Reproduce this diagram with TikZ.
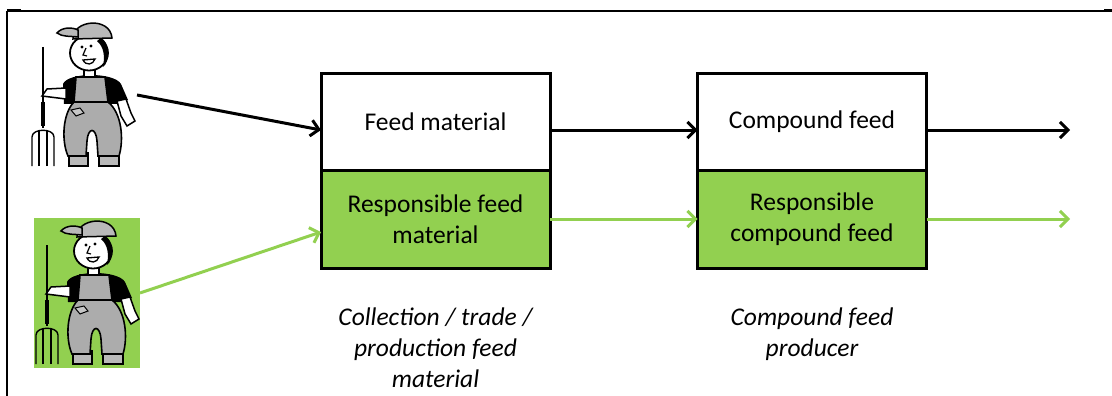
\documentclass[tikz,border=0pt]{standalone}
\usepackage{fontspec}
\setmainfont{Carlito}
\usetikzlibrary{positioning,arrows.meta}

\definecolor{leaf}{HTML}{92D050}

\tikzset{
  feedbox/.style={shape=rectangle, draw, line width=3pt, outer sep=0pt, minimum width=229pt, align=center, font=\fontsize{25.5}{31}\selectfont},
  flow/.style={line width=3pt, -{Straight Barb[length=8pt,width=16pt]}},
  note/.style={align=center, font=\fontsize{25.5}{31}\selectfont\itshape},
  farmer/.pic={
    % pitchfork
    \draw[line width=1.8pt] (43,47) -- (43,128);
    \draw[line width=3.4pt] (43,102) -- (43,126);
    \draw[line width=1.4pt] (32,166) -- (32,137) .. controls (32,128) and (54,128) .. (54,137) -- (54,166);
    \draw[line width=1.4pt] (39,166) -- (39,130) (47,166) -- (47,130);
    % boots
    \filldraw[fill=gray!55, line width=1.5pt] (69,153) rectangle (88,166);
    \filldraw[fill=gray!55, line width=1.5pt] (99,153) rectangle (119,166);
    % shirt and arms
    \fill (63,84) .. controls (68,72) and (114,72) .. (121,84) -- (128,100) -- (117,104) -- (64,104) -- cycle;
    \filldraw[fill=white, line width=1.5pt] (117,101) -- (126,99) -- (131,113) -- (135,121) -- (127,126) -- (121,116) -- cycle;
    \filldraw[fill=white, line width=1.5pt] (66,88) -- (47,89) -- (42,96) -- (66,99) -- cycle;
    % overalls
    \filldraw[fill=gray!65, line width=1.6pt] (76,77) -- (105,77) -- (108,102) .. controls (122,113) and (124,140) .. (119,156) -- (98,156) -- (97,141) .. controls (96,127) and (88,127) .. (87,141) -- (86,156) -- (68,156) .. controls (61,140) and (63,113) .. (74,102) -- cycle;
    \draw[line width=1.1pt] (74,102) -- (108,102);
    \filldraw[fill=gray!45, line width=1pt] (71,110) -- (80,108) -- (84,113) -- (76,116) -- cycle;
    % head
    \filldraw[fill=white, line width=1.5pt] (84,64) rectangle (95,77);
    \filldraw[fill=white, line width=1.8pt] (89,53) ellipse [x radius=19, y radius=17.5];
    \fill (101,38) .. controls (110,42) and (110,62) .. (103,67) .. controls (105,56) and (104,47) .. (97,41) -- cycle;
    \fill (82,47) circle (1.6pt) (91,46) circle (1.6pt);
    \draw[line width=1.2pt] (86,48) -- (83,55) -- (87,56);
    \filldraw[fill=white, line width=1.3pt] (83,60) .. controls (86,66) and (93,65) .. (95,59) -- cycle;
    % cap
    \filldraw[fill=gray!55, line width=1.5pt] (73,39) .. controls (72,20) and (110,16) .. (112,38) -- cycle;
    \filldraw[fill=gray!55, line width=1.5pt] (57,33) .. controls (62,27) and (72,27) .. (78,30) -- (78,37) .. controls (70,36) and (62,37) .. (57,33) -- cycle;
  }
}

\begin{document}
\begin{tikzpicture}[x=1pt,y=-1pt]
\useasboundingbox (0,0) rectangle (1112,396);

% frame
\draw[line width=2pt] (7,11) -- (1112,11) (7,11) -- (7,396);
\draw[line width=3pt] (7,11) -- (21,11) (1104,11) -- (1112,11);

% farmers
\fill[leaf] (34,218) rectangle (140,368);
\path (0,0) pic {farmer};
\path (4,198) pic {farmer};
\coordinate (F1) at (137,95);
\coordinate (F2) at (140,293);

% chain
\path (435.5,122) node (FM) [feedbox, minimum height=96pt] {Feed material};
\node (RFM) [feedbox, fill=leaf, minimum height=98pt, below=0pt of FM] {Responsible feed\\material};
\path (812,122) node (CF) [feedbox, minimum height=96pt] {Compound feed};
\node (RCF) [feedbox, fill=leaf, minimum height=98pt, below=0pt of CF] {Responsible\\compound feed};
\coordinate (E1) at (1070,130);
\coordinate (E2) at (1070,219);

\node (CT) [note, below=36pt of RFM] {Collection / trade /\\production feed\\material};
\node (CP) [note, anchor=north] at (CT.north -| RCF) {Compound feed\\producer};

\draw[flow] (F1) -- ([yshift=-8pt]FM.west);
\draw[flow, leaf] (F2) -- ([yshift=-13pt]RFM.west);
\draw[flow] ([yshift=-8pt]FM.east) -- ([yshift=-8pt]CF.west);
\draw[flow, leaf] (RFM.east) -- (RCF.west);
\draw[flow] ([yshift=-8pt]CF.east) -- (E1);
\draw[flow, leaf] (RCF.east) -- (E2);

\end{tikzpicture}
\end{document}
